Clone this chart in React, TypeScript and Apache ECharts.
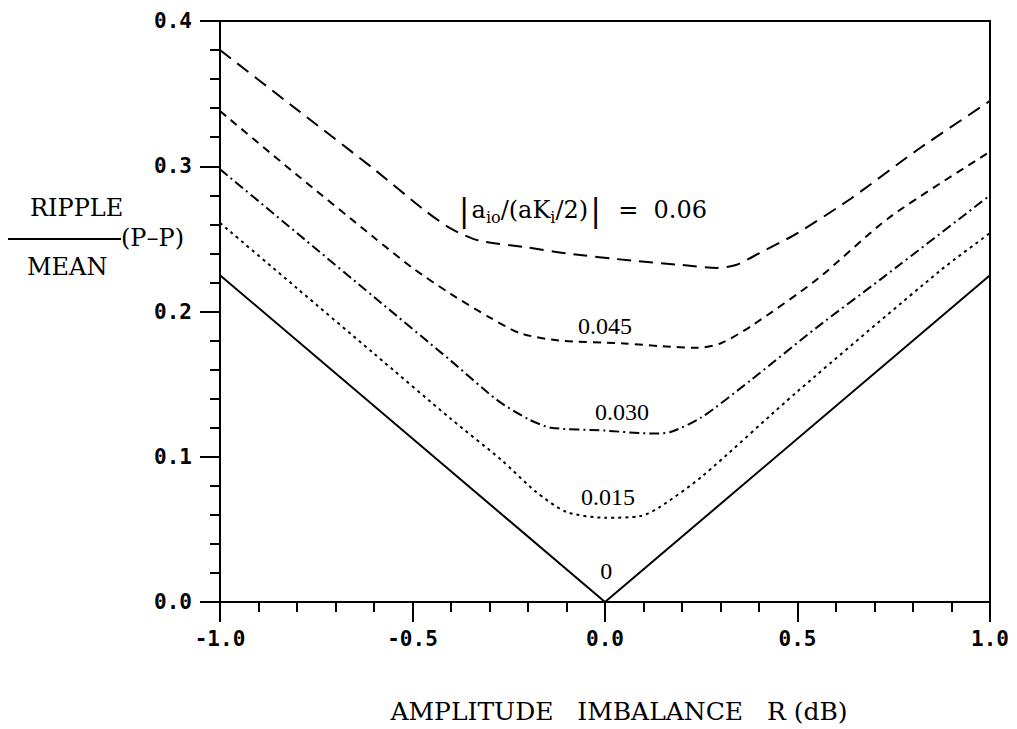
import React, { useEffect, useRef } from "react";
import * as echarts from "echarts";

const xTicks = [-1.0, -0.5, 0.0, 0.5, 1.0];
const yTicks = [0.0, 0.1, 0.2, 0.3, 0.4];

const curveNames = ["0.06", "0.045", "0.030", "0.015", "0"];

const curve060: [number, number][] = [
  [-1.0, 0.380], [-0.8, 0.339], [-0.6, 0.298], [-0.47, 0.270], [-0.4, 0.257],
  [-0.33, 0.249], [-0.2, 0.244], [-0.1, 0.240], [0.07, 0.235], [0.2, 0.232],
  [0.29, 0.230], [0.34, 0.232], [0.4, 0.240], [0.5, 0.254], [0.64, 0.278],
  [0.81, 0.311], [1.0, 0.345],
];
const curve045: [number, number][] = [
  [-1.0, 0.338], [-0.8, 0.294], [-0.6, 0.251], [-0.5, 0.230], [-0.4, 0.212],
  [-0.3, 0.196], [-0.22, 0.185], [-0.12, 0.180], [0.05, 0.178], [0.15, 0.176],
  [0.24, 0.175], [0.3, 0.178], [0.38, 0.190], [0.55, 0.222], [0.74, 0.265],
  [1.0, 0.310],
];
const curve030: [number, number][] = [
  [-1.0, 0.298], [-0.8, 0.254], [-0.6, 0.210], [-0.4, 0.166], [-0.28, 0.139],
  [-0.2, 0.126], [-0.14, 0.120], [0.0, 0.118], [0.12, 0.116], [0.17, 0.117],
  [0.25, 0.127], [0.38, 0.153], [0.55, 0.189], [0.72, 0.223], [1.0, 0.280],
];
const curve015: [number, number][] = [
  [-1.0, 0.261], [-0.8, 0.216], [-0.6, 0.171], [-0.4, 0.126], [-0.27, 0.098],
  [-0.18, 0.076], [-0.1, 0.062], [0.0, 0.058], [0.09, 0.059], [0.14, 0.065],
  [0.25, 0.086], [0.5, 0.145], [0.87, 0.228], [1.0, 0.254],
];
const curve000: [number, number][] = [
  [-1.0, 0.225], [0.0, 0.0], [1.0, 0.225],
];

const curves = [curve060, curve045, curve030, curve015, curve000];
const dashes: (number[] | "solid")[] = [[14, 8], [8, 6], [10, 4, 2, 4], [3, 4], "solid"];
const smoothing = [0.25, 0.25, 0.25, 0.25, false];

// label anchor positions in data coordinates
const labelPos: [number, number][] = [
  [-0.06, 0.27],
  [0.0, 0.190],
  [0.044, 0.131],
  [0.008, 0.072],
  [0.003, 0.021],
];

const serif = "Liberation Serif";
const wideSerif = "DejaVu Serif";

export default function App() {
  const ref = useRef<HTMLDivElement>(null);
  useEffect(() => {
    if (!ref.current) return;
    const chart = echarts.init(ref.current, undefined, { renderer: "svg" });
    const series = curves.map((data, i) => ({
      type: "line",
      name: curveNames[i],
      data,
      showSymbol: false,
      smooth: smoothing[i],
      lineStyle: { color: "#000", width: 2, type: dashes[i] },
      markPoint: {
        symbol: "circle",
        symbolSize: 1,
        itemStyle: { color: "rgba(0,0,0,0)" },
        label: {
          show: true,
          position: "inside",
          color: "#000",
          fontFamily: serif,
          fontSize: 24,
          formatter:
            i === 0
              ? "{bar||}{t|a}{sub|io}{t|/(aK}{sub|i}{t|/2)}{bar||}{t|  =  0.06}"
              : curveNames[i],
          rich:
            i === 0
              ? {
                  t: { fontFamily: wideSerif, fontSize: 24, color: "#000" },
                  sub: { fontFamily: wideSerif, fontSize: 16, color: "#000", verticalAlign: "bottom", padding: [10, 0, 0, 0] },
                  bar: { fontFamily: wideSerif, fontSize: 32, color: "#000", padding: [0, 2, 0, 2] },
                }
              : undefined,
        },
        data: [{ coord: labelPos[i] }],
      },
    }));
    chart.setOption({
      animation: false,
      backgroundColor: "#fff",
      grid: {
        left: 220,
        right: 27,
        top: 21,
        bottom: 127,
        show: true,
        borderColor: "#000",
        borderWidth: 2,
        backgroundColor: "transparent",
      },
      xAxis: {
        type: "value",
        min: xTicks[0],
        max: xTicks[xTicks.length - 1],
        interval: 0.5,
        axisLine: { show: true, onZero: false, lineStyle: { color: "#000", width: 2 } },
        axisTick: { show: true, inside: false, length: 20, lineStyle: { color: "#000", width: 2 } },
        minorTick: { show: true, splitNumber: 5, length: 10, lineStyle: { color: "#000", width: 2 } },
        splitLine: { show: false },
        axisLabel: {
          margin: 26,
          color: "#000",
          fontFamily: "DejaVu Sans Mono",
          fontWeight: "bold",
          fontSize: 21,
          formatter: (v: number) => v.toFixed(1),
        },
      },
      yAxis: {
        type: "value",
        min: yTicks[0],
        max: yTicks[yTicks.length - 1],
        interval: 0.1,
        axisLine: { show: true, onZero: false, lineStyle: { color: "#000", width: 2 } },
        axisTick: { show: true, inside: false, length: 20, lineStyle: { color: "#000", width: 2 } },
        minorTick: { show: true, splitNumber: 5, length: 10, lineStyle: { color: "#000", width: 2 } },
        splitLine: { show: false },
        axisLabel: {
          margin: 28,
          color: "#000",
          fontFamily: "DejaVu Sans Mono",
          fontWeight: "bold",
          fontSize: 21,
          formatter: (v: number) => v.toFixed(1),
        },
      },
      graphic: [
        {
          type: "text",
          left: 30,
          top: 196,
          style: { text: "RIPPLE", font: `24px "${wideSerif}"`, fill: "#000" },
        },
        {
          type: "line",
          shape: { x1: 8, y1: 239, x2: 121, y2: 239 },
          style: { stroke: "#000", lineWidth: 2 },
        },
        {
          type: "text",
          left: 121,
          top: 226,
          style: { text: "(P–P)", font: `24px "${wideSerif}"`, fill: "#000" },
        },
        {
          type: "text",
          left: 27,
          top: 255,
          style: { text: "MEAN", font: `24px "${wideSerif}"`, fill: "#000" },
        },
        {
          type: "text",
          x: 619,
          y: 711,
          style: {
            text: "AMPLITUDE   IMBALANCE   R (dB)",
            font: `25px "${wideSerif}"`,
            fill: "#000",
            align: "center",
            verticalAlign: "middle",
          },
        },
      ],
      series,
    });
    return () => chart.dispose();
  }, []);
  return (
    <div
      ref={ref}
      style={{ position: "fixed", left: 0, top: 0, width: 1017, height: 729, background: "#fff" }}
    />
  );
}
